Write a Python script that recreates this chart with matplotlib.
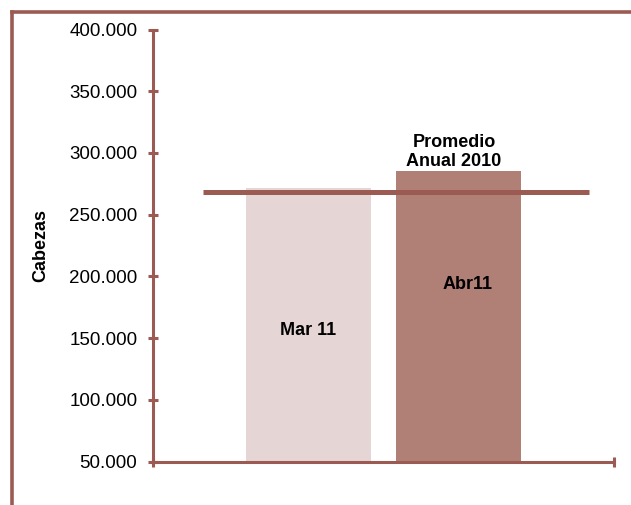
import matplotlib.pyplot as plt
from matplotlib.lines import Line2D

# data
categories = ["Mar 11", "Abr11"]
heads = [271600, 285000]
annual_avg_2010 = 268750
y_ticks = [50000, 100000, 150000, 200000, 250000, 300000, 350000, 400000]
y_tick_labels = ["50.000", "100.000", "150.000", "200.000",
                 "250.000", "300.000", "350.000", "400.000"]

BROWN = "#9C5B52"
bar_colors = ["#E6D5D5", "#B07F75"]

plt.rcParams["font.family"] = ["Liberation Sans", "DejaVu Sans"]

fig = plt.figure(figsize=(6.31, 5.05), dpi=100)
ax = fig.add_axes([153 / 631, 1 - 461.5 / 505, 461 / 631, 432 / 505])

x = list(range(len(categories)))
ax.bar(x, heads, width=0.833, color=bar_colors, bottom=0, zorder=1)
ax.hlines(annual_avg_2010, -0.703, 1.87, color=BROWN, linewidth=3.6, zorder=3)

ax.set_ylim(50000, 400000)
ax.set_xlim(-1.037, 2.037)
ax.set_yticks(y_ticks)
ax.set_yticklabels(y_tick_labels)
ax.set_xticks([-1.037, 2.037])
ax.set_xticklabels(["", ""])

for side in ["top", "right"]:
    ax.spines[side].set_visible(False)
for side in ["left", "bottom"]:
    ax.spines[side].set_color(BROWN)
    ax.spines[side].set_linewidth(2.2)
ax.tick_params(axis="both", direction="inout", length=6.5, width=2.2,
               color=BROWN, labelsize=13.5, pad=8)
ax.patch.set_visible(False)

ax.set_ylabel("Cabezas", fontsize=13, fontweight="bold")
ax.yaxis.set_label_coords(-0.225, 0.5)

# bar labels
ax.text(0, 156300, categories[0], ha="center", va="center",
        fontsize=13, fontweight="bold")
ax.text(1.06, 193800, categories[1], ha="center", va="center",
        fontsize=13, fontweight="bold")
ax.text(0.97, 301000, "Promedio\nAnual 2010", ha="center", va="center",
        fontsize=13, fontweight="bold", linespacing=1.15)

# outer frame (partially cropped like the source)
fig.add_artist(Line2D([11.5 / 631, 11.5 / 631], [-0.05, 1 - 11.5 / 505],
                      transform=fig.transFigure, color=BROWN, linewidth=2.6,
                      solid_capstyle="projecting"))
fig.add_artist(Line2D([11.5 / 631, 1.05], [1 - 11.5 / 505, 1 - 11.5 / 505],
                      transform=fig.transFigure, color=BROWN, linewidth=2.6,
                      solid_capstyle="projecting"))

fig.savefig("out.png", dpi=100)
